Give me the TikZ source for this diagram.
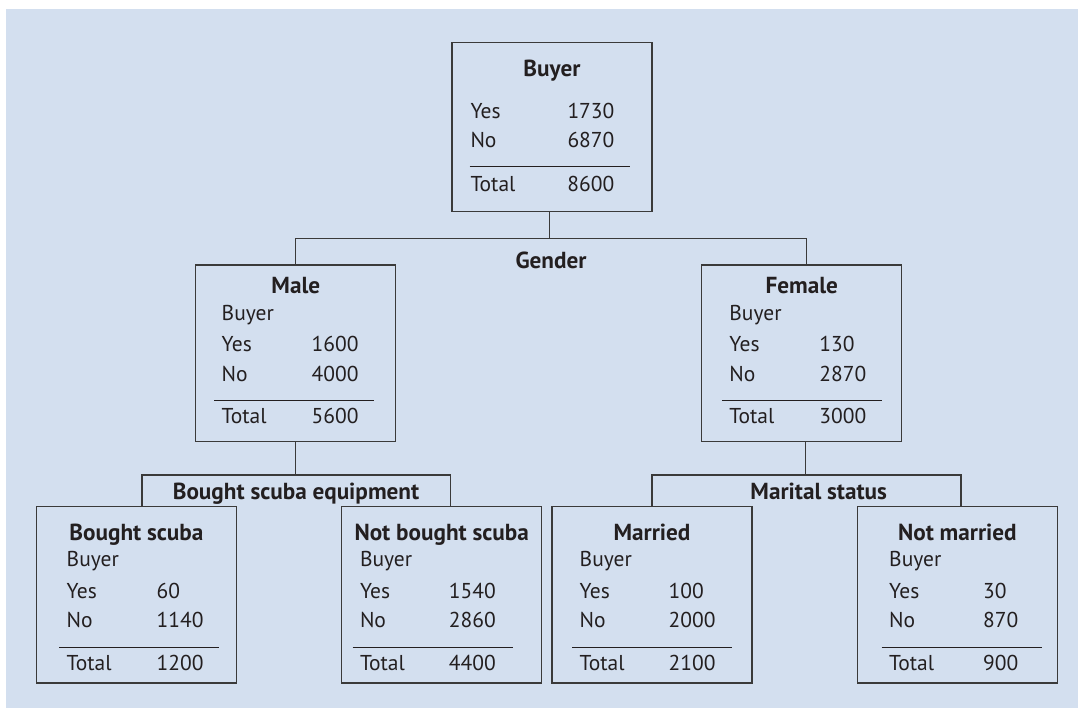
\documentclass[tikz,border=0pt]{standalone}
\usepackage{fontspec}
\setmainfont{PT Sans}
\usepackage{array}
\usepackage{tikz}
\definecolor{PaleBlue}{HTML}{D3DFEF}
\definecolor{InkGray}{HTML}{3A3A3A}
\definecolor{InkText}{HTML}{231F20}
\setlength{\arrayrulewidth}{1.2pt}
\newcommand{\diagfont}{\fontsize{21.5pt}{29pt}\selectfont}
\newcommand{\headfont}{\fontsize{23.2pt}{29pt}\selectfont\bfseries}
\newcommand{\buyercounts}[4]{%
  \begin{tabular}[t]{@{\hspace{7.5pt}}p{#1}@{}p{\dimexpr152.5pt-#1\relax}@{}}
  Buyer & \\[3pt]
  Yes & #2\\
  No & #3\\[10.3pt]\hline
  \rule{0pt}{22.7pt}Total & #4
  \end{tabular}}

\begin{document}
\begin{tikzpicture}[x=1pt,y=-1pt,
  box/.style={draw=InkGray,line width=1.3pt,minimum width=200pt,minimum height=176.5pt,inner sep=0pt},
  head/.style={font=\headfont,anchor=base,inner sep=0pt},
  tab/.style={font=\diagfont,anchor=base west,inner sep=0pt},
  conn/.style={InkGray,line width=1.3pt},
  every node/.style={text=InkText}]
\useasboundingbox (0,0) rectangle (1078,708);
\fill[white] (0,0) rectangle (1078,708);
\fill[PaleBlue] (6,9) rectangle (1078,708);

\node[box,minimum height=169.5pt] (buyer) at (552,127) {};
\node[head] (buyerhead) at (552,76.7) {Buyer};
\node[tab] (buyertab) at (469.3,118.3) {\begin{tabular}[t]{@{\hspace{1pt}}p{97pt}@{}p{62pt}@{}}
  Yes & 1730\\
  No & 6870\\[10.3pt]\hline
  \rule{0pt}{23.7pt}Total & 8600
  \end{tabular}};

\node[box] (male) at (295.8,353.3) {};
\node[head] (malehead) at (295.8,294) {Male};
\node[tab] (maletab) at (214,320) {\buyercounts{90pt}{1600}{4000}{5600}};

\node[box] (female) at (801.7,353.2) {};
\node[head] (femalehead) at (801.7,294) {Female};
\node[tab] (femaletab) at (721.7,320) {\buyercounts{90pt}{130}{2870}{3000}};

\node[box] (bought) at (136.4,594.8) {};
\node[head] (boughthead) at (136.4,540) {Bought scuba};
\node[tab] (boughttab) at (59,566.7) {\buyercounts{90pt}{60}{1140}{1200}};

\node[box] (notbought) at (441.7,594.8) {};
\node[head] (notboughthead) at (441.7,540) {Not bought scuba};
\node[tab] (notboughttab) at (352.3,566.7) {\buyercounts{89pt}{1540}{2860}{4400}};

\node[box] (married) at (652,594.8) {};
\node[head] (marriedhead) at (652,540) {Married};
\node[tab] (marriedtab) at (572,566.7) {\buyercounts{89pt}{100}{2000}{2100}};

\node[box] (notmarried) at (957.4,594.8) {};
\node[head] (notmarriedhead) at (957.4,540) {Not married};
\node[tab] (notmarriedtab) at (881.5,566.7) {\buyercounts{94pt}{30}{870}{900}};

\node[head] (gender) at (551,269) {Gender};
\node[head] (scuba) at (296,499) {Bought scuba equipment};
\node[head] (marital) at (818.7,499.3) {Marital status};

\draw[conn] ([xshift=-2.7pt]buyer.south) -- ++(0,25.9);
\draw[conn] (male.north) -- ++(0,-26.1) -| ([xshift=5pt]female.north);
\draw[conn] (male.south) -- ++(0,32.8);
\draw[conn] ([xshift=5.6pt]bought.north) -- ++(0,-30.9) -| ([xshift=8.7pt]notbought.north);
\draw[conn] ([xshift=4pt]female.south) -- ++(0,32.9);
\draw[conn] (married.north) -- ++(0,-30.9) -| ([xshift=3.6pt]notmarried.north);
\end{tikzpicture}
\end{document}
